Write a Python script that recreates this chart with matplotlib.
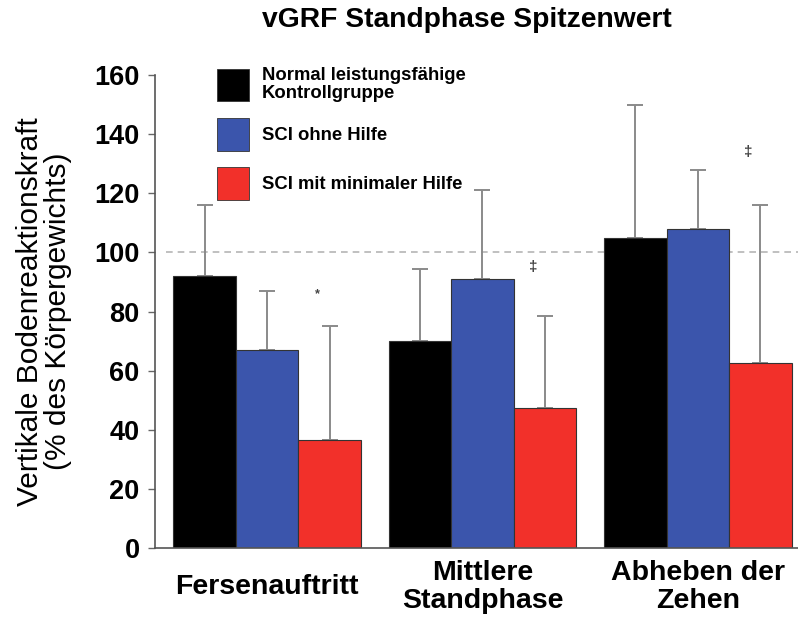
import matplotlib.pyplot as plt
import numpy as np
from matplotlib.patches import Patch

plt.rcParams['font.family'] = ['Liberation Sans', 'DejaVu Sans']

# peak vertical ground reaction force, % body weight
phases = ['Fersenauftritt', 'Mittlere\nStandphase', 'Abheben der\nZehen']
groups = ['Normal leistungsfähige\nKontrollgruppe', 'SCI ohne Hilfe',
          'SCI mit minimaler Hilfe']
control = [92, 70, 105]
control_sd = [24, 24.5, 45]
sci_free = [67, 91, 108]
sci_free_sd = [20, 30, 20]
sci_min = [36.5, 47.5, 62.5]
sci_min_sd = [38.5, 31, 53.5]
marks = ['*', '\u2021', '\u2021']
mark_y = [86, 95, 134]

colors = ['#000000', '#3b55ac', '#f2302a']
width = 0.29

fig = plt.figure(figsize=(7.98, 6.17), dpi=100)
ax = fig.add_axes([0.1942, 0.1118, 0.806, 0.7666])

x = np.arange(len(phases))
series = [(control, control_sd), (sci_free, sci_free_sd), (sci_min, sci_min_sd)]
for i, (vals, sd) in enumerate(series):
    pos = x + (i - 1) * width
    ax.bar(pos, vals, width, color=colors[i], edgecolor='#333333',
           linewidth=0.8, zorder=2)
    ax.errorbar(pos, vals, yerr=[np.zeros(len(sd)), sd], fmt='none',
                ecolor='#8a8a8a', elinewidth=1.4, capsize=5.5, capthick=1.4,
                zorder=1)

for xi, m, my in zip(x, marks, mark_y):
    ax.text(xi + width - 0.055, my, m, ha='center', va='center',
            fontsize=9 if m == '*' else 11, color='#444444', fontweight='bold')

ax.hlines(100, -0.47, 2.47, colors='#b5b5b5', linestyles=(0, (4, 3)),
          linewidth=1.2, zorder=0)

ax.set_xlim(-0.52, 2.465)
ax.set_ylim(0, 160)
ax.set_yticks(range(0, 161, 20))
ax.set_xticks(x)
ax.set_xticklabels(phases, fontsize=20.5, fontweight='bold', va='center',
                   linespacing=1.12)
ax.tick_params(axis='x', length=0, pad=28)
ax.tick_params(axis='y', labelsize=19.5, length=5, width=1, color='#666666',
               direction='out', pad=6)
for lbl in ax.get_yticklabels():
    lbl.set_fontweight('bold')

for s in ['top', 'right']:
    ax.spines[s].set_visible(False)
for s in ['left', 'bottom']:
    ax.spines[s].set_color('#555555')
    ax.spines[s].set_linewidth(1.2)

ax.set_ylabel('Vertikale Bodenreaktionskraft\n(% des Körpergewichts)',
              fontsize=21.5, labelpad=16, linespacing=1.0)

handles = [Patch(facecolor=c, edgecolor='#333333', linewidth=0.6) for c in colors]
leg = ax.legend(handles, groups, loc='upper left', bbox_to_anchor=(0.096, 1.018),
                frameon=False, borderpad=0, borderaxespad=0, handlelength=1.73,
                handleheight=2.34, handletextpad=0.7, labelspacing=0.88,
                prop={'weight': 'bold', 'size': 13.3})
for t in leg.get_texts():
    t.set_linespacing(1.1)

fig.text(0.585, 0.967, 'vGRF Standphase Spitzenwert', ha='center',
         va='center', fontsize=20.3, fontweight='bold')

fig.savefig('out.png', dpi=100)
